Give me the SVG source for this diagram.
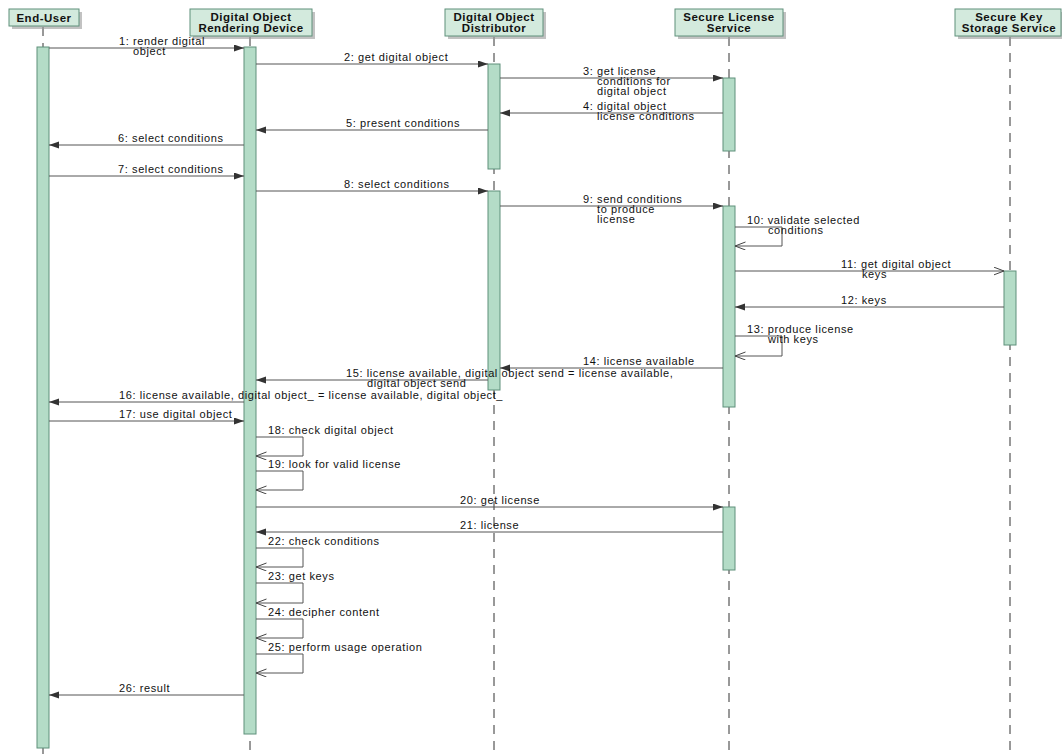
<svg xmlns="http://www.w3.org/2000/svg" width="1062" height="754" viewBox="0 0 1062 754">
<defs>
<marker id="fill" markerWidth="11" markerHeight="8" refX="10" refY="3.5" orient="auto" markerUnits="userSpaceOnUse"><path d="M0,0 L10,3.5 L0,7 z" fill="#333"/></marker>
<marker id="open" markerWidth="12" markerHeight="10" refX="10.5" refY="4" orient="auto" markerUnits="userSpaceOnUse"><path d="M0,0 L10.5,4 L0,8" fill="none" stroke="#444" stroke-width="1"/></marker>
</defs>
<style>
.bg{fill:#fff}
.hdr{fill:#d3eadd;stroke:#5f907b;stroke-width:1}
.shd{fill:#9a9a9a;opacity:0.6}
.ht{font-family:"Liberation Sans",Arial,sans-serif;font-size:11.5px;letter-spacing:0.5px;font-weight:bold;fill:#111;text-anchor:middle}
.life{stroke:#333;stroke-width:1;stroke-dasharray:9,7;fill:none}
.bar{fill:#b4dcc7;stroke:#5f907b;stroke-width:1}
.msg{stroke:#555;stroke-width:1;fill:none;marker-end:url(#fill)}
.omsg{stroke:#555;stroke-width:1;fill:none;marker-end:url(#open)}
.lbl{font-family:"Liberation Sans",Arial,sans-serif;font-size:11px;letter-spacing:0.6px;fill:#111}
</style>
<rect class="bg" x="0" y="0" width="1062" height="754"/>

<g id="lifelines">
<line class="life" x1="43" y1="27" x2="43" y2="754"/>
<line class="life" x1="250" y1="37" x2="250" y2="754"/>
<line class="life" x1="494" y1="37" x2="494" y2="754"/>
<line class="life" x1="729" y1="37" x2="729" y2="754"/>
<line class="life" x1="1010" y1="37" x2="1010" y2="754"/>
</g>

<g id="node-enduser">
<rect class="shd" x="12" y="12" width="70" height="17"/>
<rect class="hdr" x="9" y="9" width="70" height="17"/>
<text class="ht" x="44" y="21.5">End-User</text>
<rect class="bar" x="37" y="47" width="12" height="701"/>
</g>

<g id="node-rendering">
<rect class="shd" x="193" y="12" width="122" height="27"/>
<rect class="hdr" x="190" y="9" width="122" height="27"/>
<text class="ht" x="251" y="20.5">Digital Object</text>
<text class="ht" x="251" y="31.5">Rendering Device</text>
<rect class="bar" x="244" y="47" width="12" height="687"/>
</g>

<g id="node-distributor">
<rect class="shd" x="448" y="12" width="98" height="27"/>
<rect class="hdr" x="445" y="9" width="98" height="27"/>
<text class="ht" x="494" y="20.5">Digital Object</text>
<text class="ht" x="494" y="31.5">Distributor</text>
<rect class="bar" x="488" y="64" width="12" height="105"/>
<rect class="bar" x="488" y="191" width="12" height="199"/>
</g>

<g id="node-license">
<rect class="shd" x="678" y="12" width="108" height="27"/>
<rect class="hdr" x="675" y="9" width="108" height="27"/>
<text class="ht" x="729" y="20.5">Secure License</text>
<text class="ht" x="729" y="31.5">Service</text>
<rect class="bar" x="723" y="78" width="12" height="73"/>
<rect class="bar" x="723" y="206" width="12" height="201"/>
<rect class="bar" x="723" y="507" width="12" height="63"/>
</g>

<g id="node-keystorage">
<rect class="shd" x="958" y="12" width="106" height="27"/>
<rect class="hdr" x="955" y="9" width="106" height="27"/>
<text class="ht" x="1009" y="20.5">Secure Key</text>
<text class="ht" x="1009" y="31.5">Storage Service</text>
<rect class="bar" x="1004" y="271" width="12" height="74"/>
</g>

<g id="connectors">
<line class="msg" x1="49" y1="48" x2="244" y2="48"/>
<line class="msg" x1="256" y1="64" x2="488" y2="64"/>
<line class="msg" x1="500" y1="78" x2="723" y2="78"/>
<line class="msg" x1="723" y1="113" x2="500" y2="113"/>
<line class="msg" x1="488" y1="130" x2="256" y2="130"/>
<line class="msg" x1="244" y1="145" x2="49" y2="145"/>
<line class="msg" x1="49" y1="176" x2="244" y2="176"/>
<line class="msg" x1="256" y1="191" x2="488" y2="191"/>
<line class="msg" x1="500" y1="206" x2="723" y2="206"/>
<path class="omsg" d="M735,227 H782 V246 H735"/>
<line class="omsg" x1="735" y1="271" x2="1004" y2="271"/>
<line class="msg" x1="1004" y1="307" x2="735" y2="307"/>
<path class="omsg" d="M735,336 H782 V356 H735"/>
<line class="msg" x1="723" y1="368" x2="500" y2="368"/>
<line class="msg" x1="488" y1="380" x2="256" y2="380"/>
<line class="msg" x1="244" y1="402" x2="49" y2="402"/>
<line class="msg" x1="49" y1="421" x2="244" y2="421"/>
<path class="omsg" d="M256,437 H303 V456 H256"/>
<path class="omsg" d="M256,471 H303 V490 H256"/>
<line class="msg" x1="256" y1="507" x2="723" y2="507"/>
<line class="msg" x1="723" y1="532" x2="256" y2="532"/>
<path class="omsg" d="M256,548 H303 V567 H256"/>
<path class="omsg" d="M256,583 H303 V603 H256"/>
<path class="omsg" d="M256,619 H303 V638 H256"/>
<path class="omsg" d="M256,654 H303 V673 H256"/>
<line class="msg" x1="244" y1="695" x2="49" y2="695"/>
</g>

<g id="labels">
<text class="lbl" x="119" y="45">1: render digital</text>
<text class="lbl" x="133" y="55">object</text>
<text class="lbl" x="344" y="61">2: get digital object</text>
<text class="lbl" x="583" y="75">3: get license</text>
<text class="lbl" x="597" y="85">conditions for</text>
<text class="lbl" x="597" y="95">digital object</text>
<text class="lbl" x="583" y="110">4: digital object</text>
<text class="lbl" x="597" y="120">license conditions</text>
<text class="lbl" x="346" y="127">5: present conditions</text>
<text class="lbl" x="118" y="142">6: select conditions</text>
<text class="lbl" x="118" y="173">7: select conditions</text>
<text class="lbl" x="344" y="188">8: select conditions</text>
<text class="lbl" x="583" y="203">9: send conditions</text>
<text class="lbl" x="597" y="213">to produce</text>
<text class="lbl" x="597" y="223">license</text>
<text class="lbl" x="747" y="224">10: validate selected</text>
<text class="lbl" x="768" y="234">conditions</text>
<text class="lbl" x="841" y="268">11: get digital object</text>
<text class="lbl" x="862" y="278">keys</text>
<text class="lbl" x="841" y="304">12: keys</text>
<text class="lbl" x="747" y="333">13: produce license</text>
<text class="lbl" x="768" y="343">with keys</text>
<text class="lbl" x="583" y="365">14: license available</text>
<text class="lbl" x="346" y="377">15: license available, digital object send = license available,</text>
<text class="lbl" x="367" y="387">digital object send</text>
<text class="lbl" x="119" y="399">16: license available, digital object_ = license available, digital object_</text>
<text class="lbl" x="119" y="418">17: use digital object</text>
<text class="lbl" x="268" y="434">18: check digital object</text>
<text class="lbl" x="268" y="468">19: look for valid license</text>
<text class="lbl" x="460" y="504">20: get license</text>
<text class="lbl" x="460" y="529">21: license</text>
<text class="lbl" x="268" y="545">22: check conditions</text>
<text class="lbl" x="268" y="580">23: get keys</text>
<text class="lbl" x="268" y="616">24: decipher content</text>
<text class="lbl" x="268" y="651">25: perform usage operation</text>
<text class="lbl" x="119" y="692">26: result</text>
</g>
</svg>
